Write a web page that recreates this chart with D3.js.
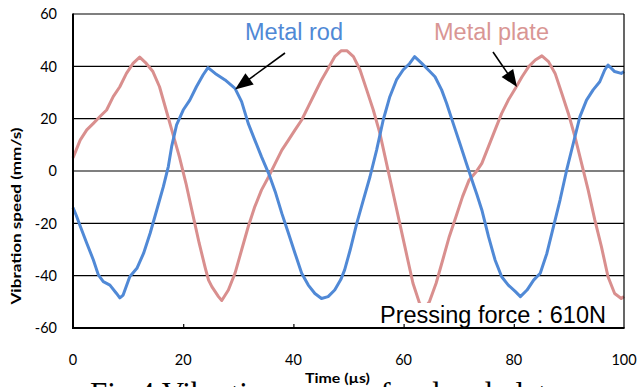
<!DOCTYPE html>
<html><head><meta charset="utf-8">
<script src="https://cdn.jsdelivr.net/npm/d3@7"></script>
<style>html,body{margin:0;padding:0;background:#fff;}svg{display:block;}</style>
</head><body>
<svg id="c" width="637" height="387"></svg>
<script>
// ---- data ----
const xTicks = [0, 20, 40, 60, 80, 100];
const yTicks = [-60, -40, -20, 0, 20, 40, 60];
const rodTime = [0,0.6,1.3,2.5,3.7,4.6,5.5,6.7,7.9,8.5,9.1,10.3,11.6,12.8,14,15.2,16.4,17.3,17.9,18.8,20,21.2,22.4,23.6,24.5,25.8,27.6,29.4,30.6,31.8,33,34.2,35.5,36.7,37.9,39.1,40.3,41.5,42.7,43.9,45.1,46.3,47.5,48.6,49.3,50.3,51.5,52.7,53.9,55.1,56.3,57.5,58.7,59.9,61.1,62,63.3,64.5,65.7,66.9,67.8,69,70.2,71.4,72.6,73.3,74.2,75.4,76.6,77.8,79,80.3,81.2,82.4,83.6,84.8,86,87.2,88.4,89.6,90.8,92,93.2,94.4,95.6,96.5,97.1,98.3,99.5,100];
const rodSpeed = [-14,-17,-21,-27.6,-34,-39.7,-42.3,-43.6,-46.8,-48.5,-47.4,-40.4,-37.2,-31.5,-23.8,-14.9,-6,1.7,9.3,17.6,23.3,27.1,32.2,36.7,39.5,37.3,34.8,31.6,26.5,18.2,11.8,5.5,-0.9,-7.9,-16.2,-23.8,-31.5,-39.1,-43.6,-46.8,-48.7,-48,-45.5,-41.5,-37.8,-30.2,-20,-11,-2.2,8,19.5,28.4,34.8,38.6,41.1,43.7,41.1,38.6,36,31,25.9,18.2,10.6,2.9,-4.7,-9,-14.9,-25,-34,-40.4,-43.6,-46.1,-48,-45.5,-41.7,-39.1,-31.5,-21.3,-11,0.4,10.6,20.8,27.1,31,34.1,38.6,40.5,38,37.3,38];
const plateTime = [0,1.3,2.5,3.7,4.9,6.1,7.3,8.5,9.7,10.9,12.1,13.3,14.5,15.7,16.9,18.1,19.3,20.5,21.7,22.9,24,24.6,25.2,26.4,27,28.2,29.4,30.6,31.8,33,34.2,35.5,36.7,37.9,39.1,40.3,41.5,42.7,43.9,45.1,46.3,47.5,48.7,49.7,50.9,52.1,53.3,54.5,55.7,56.9,58.1,59.3,60.5,61.7,62.9,63.8,64.7,65.9,67.1,68.3,69.5,70.7,71.9,73.1,74.2,75.4,76.6,77.8,79,80.3,81.5,82.7,83.9,85.1,86.3,87.5,88.7,89.9,91.1,92.3,93.5,94.7,95.9,97.1,98.3,99.5,100];
const plateSpeed = [5,11.8,15.7,18.2,20.8,23.3,28.4,32.2,37.3,41.1,43.5,41.1,38,32.2,23.3,14.4,5.5,-4.7,-16.2,-27.6,-37,-41.7,-44.2,-48,-49.5,-45.5,-39.1,-30.2,-21.3,-13.6,-7.3,-2.2,2.9,8,11.8,15.7,19.5,24.6,29.7,34.8,39.2,43.7,46,46,43.7,38.6,31,23.3,14.4,2.9,-8.5,-20,-31.5,-42.9,-50.6,-52.5,-49.9,-42.9,-34,-25,-17.5,-9.8,-3.4,-0.5,2.9,9.3,15.7,22,27.1,31.6,36,39.9,42.4,44,41.8,37.3,29.7,22,13.1,2.9,-7.3,-18.7,-28.9,-40.4,-46.8,-48.7,-48];
const seriesNames = ["Metal rod", "Metal plate"];
const noteText = "Pressing force : 610N";
const xTitle = "Time (\u00b5s)";
const yTitle = "Vibration speed (mm/s)";
const caption = "Fig.4 Vibration speed of rod and plate";

// ---- layout ----
const svg = d3.select("#c");
const L = 73, R = 624, T = 14, B = 328;
const x = d3.scaleLinear().domain([0, 100]).range([L, R]);
const y = d3.scaleLinear().domain([-60, 60]).range([B, T]);
const blue = "#5089d6", pink = "#d98f8e";

// caption (partly cut off at bottom)
svg.append("text").attr("x", 90).attr("y", 404)
  .attr("font-family", "'Liberation Serif', 'Times New Roman', serif")
  .attr("font-size", 31).attr("fill", "#000").text(caption);

// gridlines
svg.append("g").selectAll("line").data(yTicks.filter(d => d !== -60 && d !== 60)).join("line")
  .attr("x1", L).attr("x2", R).attr("y1", d => y(d)).attr("y2", d => y(d))
  .attr("stroke", d => d === 0 ? "#555" : "#000").attr("stroke-width", d => d === 0 ? 1.6 : 1.1);

// lines
const line = d3.line().x(d => x(d[0])).y(d => y(d[1]));
const rod = rodTime.map((t, i) => [t, rodSpeed[i]]);
const plate = plateTime.map((t, i) => [t, plateSpeed[i]]);
svg.append("path").attr("d", line(plate)).attr("fill", "none").attr("stroke", pink).attr("stroke-width", 3).attr("stroke-linejoin", "round");
svg.append("path").attr("d", line(rod)).attr("fill", "none").attr("stroke", blue).attr("stroke-width", 3).attr("stroke-linejoin", "round");

// note box
svg.append("rect").attr("x", 377).attr("y", 303).attr("width", 243).attr("height", 23).attr("fill", "#fff");
svg.append("text").attr("x", 380).attr("y", 323)
  .attr("font-family", "'Liberation Sans', Arial, sans-serif").attr("font-size", 23.5).attr("fill", "#000").text(noteText);

// axes: y labels
const lblFont = "Lato, 'Open Sans', sans-serif";
svg.append("g").selectAll("text").data(yTicks).join("text")
  .attr("x", 57).attr("y", d => y(d)).attr("dy", "0.36em").attr("text-anchor", "end")
  .attr("font-family", lblFont).attr("font-size", 14.5).attr("fill", "#000").text(d => d);
// x labels
svg.append("g").selectAll("text").data(xTicks).join("text")
  .attr("x", d => x(d)).attr("y", 365).attr("text-anchor", "middle")
  .attr("font-family", lblFont).attr("font-size", 14.5).attr("fill", "#000").text(d => d);

// x ticks (inward)
const xAxis = d3.axisBottom(x).tickValues(xTicks.slice(1, -1)).tickSize(-4).tickFormat("");
const gx = svg.append("g").attr("transform", `translate(0,${B})`).call(xAxis);
gx.select(".domain").remove();
gx.selectAll("line").attr("stroke", "#000").attr("stroke-width", 1.2);

// border
svg.append("line").attr("x1", L).attr("x2", R).attr("y1", T).attr("y2", T).attr("stroke", "#000").attr("stroke-width", 1.2);
svg.append("line").attr("x1", R).attr("x2", R).attr("y1", T).attr("y2", B).attr("stroke", "#000").attr("stroke-width", 1.2);
svg.append("line").attr("x1", L).attr("x2", L).attr("y1", T - 0.6).attr("y2", B + 1).attr("stroke", "#000").attr("stroke-width", 2);
svg.append("line").attr("x1", L - 1).attr("x2", R + 0.6).attr("y1", B).attr("y2", B).attr("stroke", "#000").attr("stroke-width", 2);

// series labels
svg.append("text").attr("x", 245).attr("y", 40).attr("font-family", "'Liberation Sans', Arial, sans-serif")
  .attr("font-size", 23.5).attr("fill", blue).text(seriesNames[0]);
svg.append("text").attr("x", 434).attr("y", 40).attr("font-family", "'Liberation Sans', Arial, sans-serif")
  .attr("font-size", 23.5).attr("fill", "#d99694").text(seriesNames[1]);

// arrows
function arrowHead(x1, y1, x2, y2, len, w) {
  const dx = x2 - x1, dy = y2 - y1, d = Math.hypot(dx, dy), ux = dx / d, uy = dy / d;
  const bx = x2 - ux * len, by = y2 - uy * len;
  svg.append("line").attr("x1", x1).attr("y1", y1).attr("x2", bx + ux * 2).attr("y2", by + uy * 2)
    .attr("stroke", "#000").attr("stroke-width", 1.6);
  svg.append("path").attr("d", `M${x2},${y2} L${bx - uy * w / 2},${by + ux * w / 2} L${bx + uy * w / 2},${by - ux * w / 2} Z`).attr("fill", "#000");
}
arrowHead(285, 53, 235, 89.5, 18, 14);
arrowHead(493, 52, 517, 87, 17, 14);

// axis titles
svg.append("text").attr("transform", "translate(21,216) rotate(-90)").attr("text-anchor", "middle")
  .attr("font-family", lblFont).attr("font-weight", "bold").attr("font-size", 14)
  .attr("textLength", 177).attr("lengthAdjust", "spacingAndGlyphs").text(yTitle);
svg.append("rect").attr("x", 303).attr("y", 370).attr("width", 70).attr("height", 17).attr("fill", "#fff");
svg.append("text").attr("x", 337.5).attr("y", 383).attr("text-anchor", "middle")
  .attr("font-family", lblFont).attr("font-weight", "bold").attr("font-size", 14)
  .attr("textLength", 65).attr("lengthAdjust", "spacingAndGlyphs").text(xTitle);
</script>
</body></html>
